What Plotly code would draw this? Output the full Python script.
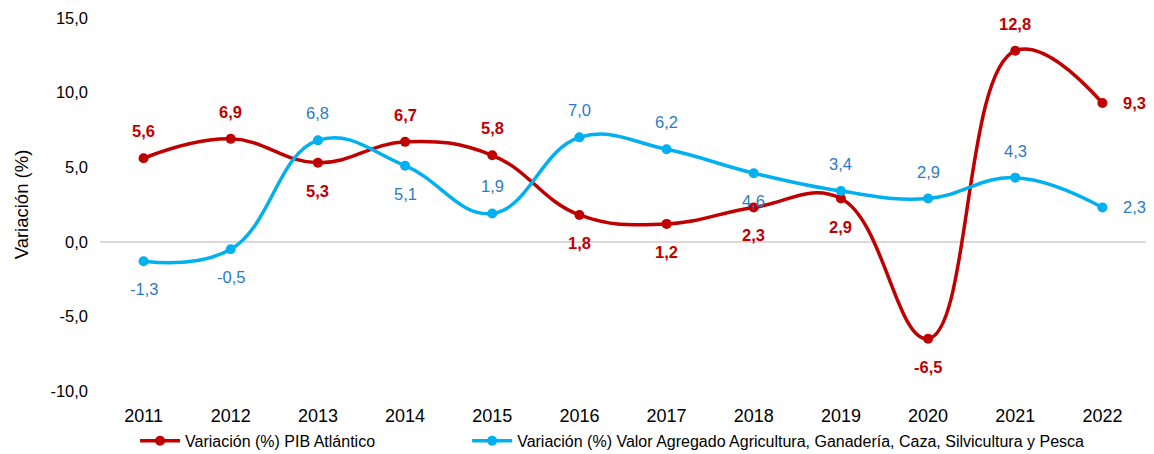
import plotly.graph_objects as go

years = ["2011", "2012", "2013", "2014", "2015", "2016", "2017", "2018", "2019", "2020", "2021", "2022"]
pib = [5.6, 6.9, 5.3, 6.7, 5.8, 1.8, 1.2, 2.3, 2.9, -6.5, 12.8, 9.3]
agro = [-1.3, -0.5, 6.8, 5.1, 1.9, 7.0, 6.2, 4.6, 3.4, 2.9, 4.3, 2.3]
# label placement: "t" above, "b" below, "r" right of the point
pib_pos = ["t", "t", "b", "t", "t", "b", "b", "b", "b", "b", "t", "r"]
agro_pos = ["b", "b", "t", "b", "t", "t", "t", "b", "t", "t", "t", "r"]
yticks = [-10, -5, 0, 5, 10, 15]

def fmt(v):
    return f"{v:.1f}".replace(".", ",")

RED = "#C00000"
BLUE = "#00B0F0"
BLUE_TXT = "#2A7CC8"
FONT = "Liberation Sans, Arial, sans-serif"

fig = go.Figure()
fig.add_trace(go.Scatter(
    x=years, y=pib, name="Variación (%) PIB Atlántico",
    mode="lines+markers",
    line=dict(color=RED, width=3.5, shape="spline", smoothing=1.2),
    marker=dict(color=RED, size=10),
    cliponaxis=False, legend="legend",
))
fig.add_trace(go.Scatter(
    x=years, y=agro, name="Variación (%) Valor Agregado Agricultura, Ganadería, Caza, Silvicultura y Pesca",
    mode="lines+markers",
    line=dict(color=BLUE, width=3.5, shape="spline", smoothing=1.2),
    marker=dict(color=BLUE, size=10),
    cliponaxis=False, legend="legend2",
))

def add_labels(vals, pos, color, bold):
    for i, (v, p) in enumerate(zip(vals, pos)):
        txt = fmt(v)
        if bold:
            txt = f"<b>{txt}</b>"
        kw = dict(x=i, y=v, xref="x", yref="y", text=txt, showarrow=False,
                  font=dict(size=16.5, color=color, family=FONT))
        if p == "t":
            kw.update(yshift=27)
        elif p == "b":
            kw.update(yshift=-28)
        else:
            kw.update(xanchor="left", xshift=19)
        fig.add_annotation(**kw)

add_labels(pib, pib_pos, RED, True)
add_labels(agro, agro_pos, BLUE_TXT, False)

leg_common = dict(orientation="h", yref="container", y=0.029, yanchor="middle",
                  xanchor="left", font=dict(size=16, color="#000000"),
                  itemwidth=40, bgcolor="rgba(0,0,0,0)")
fig.update_layout(
    width=1154, height=454,
    margin=dict(l=100, r=8, t=18, b=63, autoexpand=False),
    paper_bgcolor="white", plot_bgcolor="white",
    font=dict(family=FONT, color="#000000"),
    showlegend=True,
    legend=dict(x=0.0335, **leg_common),
    legend2=dict(x=0.351, **leg_common),
)
fig.update_xaxes(type="category", range=[-0.5, len(years) - 0.5], autorange=False,
                 showgrid=False, zeroline=False, showline=False, automargin=False,
                 tickfont=dict(size=18, color="#000000"), ticks="", ticklabelstandoff=12)
fig.update_yaxes(range=[-10, 15], tickvals=yticks, ticktext=[fmt(v) for v in yticks],
                 showgrid=False, zeroline=True, zerolinecolor="#D9D9D9", zerolinewidth=2,
                 automargin=False,
                 tickfont=dict(size=16.5, color="#000000"), ticks="", ticklabelstandoff=11,
                 title=dict(text="Variación (%)", font=dict(size=18.5, color="#000000"), standoff=16))

fig.write_html("out.html")
